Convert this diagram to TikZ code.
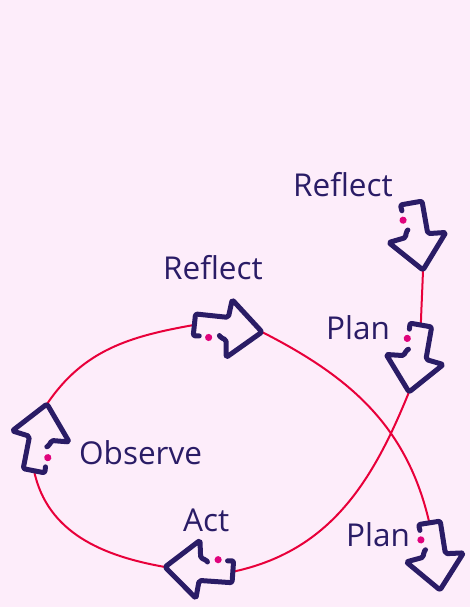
\documentclass[tikz,border=0pt]{standalone}
\usepackage{fontspec}
\setmainfont{Open Sans}
\usetikzlibrary{positioning}
\definecolor{bgpink}{HTML}{FDEDFA}
\definecolor{navy}{HTML}{2A1C66}
\definecolor{loopred}{HTML}{E8003A}
\definecolor{dotpink}{HTML}{E0037C}
\pgfdeclarelayer{back}
\pgfsetlayers{back,main}
\tikzset{
  arrowline/.style={draw=navy,line width=5pt,line cap=round,line join=round},
  loopline/.style={draw=loopred,line width=2pt},
  steplabel/.style={text=navy,font=\fontsize{31.5}{38}\selectfont,anchor=base west,inner sep=0pt},
  cyclearrow/.pic={
    \draw[arrowline,rounded corners=2pt] (-62,-10.5) -- (-68,-11) -- (-68,11) -- (-35,11) -- (-33,29) -- (0,0) -- (-33,-29) -- (-35,-11) -- (-40,-10.5) -- (-42,-8);
    \fill[dotpink] (-52.5,-11) circle (3.6);
    \coordinate (-tip) at (0,0);
    \coordinate (-tail) at (-68,0);
  }
}
\begin{document}
\begin{tikzpicture}[x=1pt,y=1pt]
\begin{pgfonlayer}{back}
\fill[bgpink] (0,0) rectangle (470,-607);
\end{pgfonlayer}
\useasboundingbox (0,0) rectangle (470,-607);
\pic[rotate=-6] (reflA) at (262,-332) {cyclearrow};
\pic[rotate=-80] (reflB) at (423,-270) {cyclearrow};
\pic[rotate=-100] (planA) at (409,-392) {cyclearrow};
\pic[rotate=-81] (planB) at (440,-590) {cyclearrow};
\pic[rotate=79] (obs) at (47,-404) {cyclearrow};
\pic[rotate=176] (act) at (165,-567) {cyclearrow};
\node[steplabel] (lreflB) at (293,-196) {Reflect};
\node[steplabel] (lreflA) at (163,-279) {Reflect};
\node[steplabel] (lplanA) at (326,-339) {Plan};
\node[steplabel] (lobs) at (79,-464) {Observe};
\node[steplabel] (lact) at (183,-531) {Act};
\node[steplabel] (lplanB) at (346,-546) {Plan};
\begin{pgfonlayer}{back}
\draw[loopline] (reflB-tip) to[out=-92,in=88] (planA-tail);
\draw[loopline] (planA-tip) to[out=-112,in=12] (act-tail);
\draw[loopline] (act-tip) to[out=170,in=-78] (obs-tail);
\draw[loopline] (obs-tip) to[out=56,in=190] (reflA-tail);
\draw[loopline] (reflA-tip) to[out=-27,in=103] (planB-tail);
\end{pgfonlayer}
\end{tikzpicture}
\end{document}
